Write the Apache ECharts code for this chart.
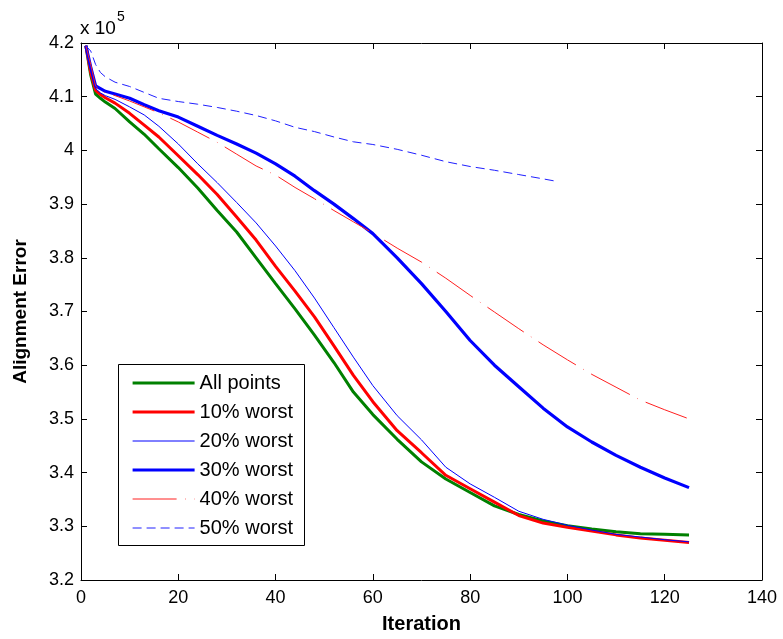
<!DOCTYPE html>
<html>
<head>
<meta charset="utf-8">
<script src="https://cdn.jsdelivr.net/npm/echarts@6/dist/echarts.min.js"></script>
<style>
html,body{margin:0;padding:0;background:#fff;}
#chart{width:783px;height:639px;}
</style>
</head>
<body>
<div id="chart"></div>
<script>
// Iteration numbers at which values were read
var iterations = [1,2,3,4,5,7,10,13,16,20,24,28,32,36,40,44,48,52,56,60,65,70,75,80,85,90,95,100,105,110,115,120,125];
var iterations50 = [1,2,3,4,5,7,10,13,16,20,24,28,32,36,40,44,48,52,56,60,65,70,75,80,85,90,95,98];

// Alignment error, units of 10^5
var allPoints = [4.195,4.14,4.105,4.097,4.09,4.078,4.053,4.03,4.003,3.968,3.93,3.888,3.848,3.80,3.752,3.705,3.656,3.605,3.55,3.508,3.462,3.42,3.388,3.363,3.338,3.322,3.31,3.301,3.295,3.29,3.286,3.285,3.284];
var worst10 = [4.195,4.145,4.112,4.104,4.098,4.088,4.069,4.047,4.025,3.99,3.955,3.918,3.876,3.833,3.784,3.738,3.69,3.636,3.581,3.532,3.478,3.437,3.395,3.37,3.345,3.32,3.306,3.298,3.291,3.284,3.278,3.274,3.27];
var worst20 = [4.195,4.15,4.115,4.107,4.102,4.095,4.081,4.066,4.045,4.012,3.975,3.94,3.903,3.865,3.822,3.776,3.725,3.67,3.615,3.562,3.506,3.461,3.41,3.379,3.354,3.328,3.313,3.302,3.293,3.285,3.28,3.275,3.271];
var worst30 = [4.195,4.155,4.12,4.115,4.11,4.105,4.097,4.085,4.074,4.062,4.045,4.028,4.012,3.995,3.975,3.952,3.925,3.90,3.873,3.845,3.80,3.752,3.70,3.646,3.60,3.56,3.52,3.485,3.457,3.432,3.41,3.39,3.372];
var worst40 = [4.195,4.16,4.12,4.112,4.108,4.102,4.092,4.081,4.07,4.053,4.034,4.015,3.993,3.971,3.954,3.931,3.91,3.888,3.867,3.846,3.818,3.792,3.762,3.73,3.699,3.668,3.638,3.61,3.583,3.559,3.535,3.517,3.50];
var worst50 = [4.195,4.185,4.16,4.145,4.137,4.127,4.119,4.108,4.097,4.091,4.086,4.08,4.073,4.065,4.055,4.043,4.035,4.025,4.016,4.011,4.002,3.991,3.979,3.97,3.963,3.955,3.947,3.942];

var seriesNames = ['All points','10% worst','20% worst','30% worst','40% worst','50% worst'];
var xTicks = [0,20,40,60,80,100,120,140];
var yTicks = [3.2,3.3,3.4,3.5,3.6,3.7,3.8,3.9,4,4.1,4.2];

function pairs(xs, ys){ return xs.map(function(x,i){ return [x, ys[i]]; }); }

var chart = echarts.init(document.getElementById('chart'), null, {renderer:'canvas'});
var FONT = 'Liberation Sans';
function fmt(v){ return String(parseFloat(Number(v).toFixed(1))); }

var lineDefs = [
  {data: pairs(iterations, allPoints), color:'#008000', width:3, type:'solid'},
  {data: pairs(iterations, worst10), color:'#ff0000', width:3, type:'solid'},
  {data: pairs(iterations, worst20), color:'#0000ff', width:1, type:'solid'},
  {data: pairs(iterations, worst30), color:'#0000ff', width:3.2, type:'solid'},
  {data: pairs(iterations, worst40), color:'#ff2020', width:1, type:[44,8.5,0.6,8.5]},
  {data: pairs(iterations50, worst50), color:'#2020ff', width:1, type:[9,5]}
];

var series = lineDefs.map(function(d, i){
  return {
    name: seriesNames[i], type:'line', data:d.data, symbol:'none', showSymbol:false,
    smooth:false, animation:false, color:d.color,
    lineStyle:{color:d.color, width:d.width, type:d.type},
    emphasis:{disabled:true}, z: 2 + i
  };
});

var legendData = seriesNames.map(function(n, i){
  return {name:n, lineStyle:{width:lineDefs[i].width, type:lineDefs[i].type, color:lineDefs[i].color}};
});

var axisCommon = {
  axisLine:{show:true, onZero:false, lineStyle:{color:'#000', width:1}},
  axisTick:{show:true, inside:true, length:6, lineStyle:{color:'#000'}},
  splitLine:{show:false}
};

var option = {
  backgroundColor:'#fff',
  animation:false,
  grid:{left:81, right:21, top:43, bottom:59, containLabel:false},
  legend:{
    show:true, left:131, top:373, orient:'vertical', padding:0,
    itemWidth:62, itemHeight:20, itemGap:9,
    itemStyle:{opacity:0},
    textStyle:{fontFamily:FONT, fontSize:20, color:'#000', lineHeight:20},
    data: legendData, selectedMode:false
  },
  xAxis:[
    Object.assign({type:'value', min:0, max:140, interval:20, position:'bottom',
      name:'Iteration', nameLocation:'middle', nameGap:34,
      nameTextStyle:{fontFamily:FONT, fontSize:20, fontWeight:'bold', color:'#000'},
      axisLabel:{fontFamily:FONT, fontSize:18, color:'#000', margin:9}}, axisCommon),
    Object.assign({type:'value', min:0, max:140, interval:20, position:'top',
      axisLabel:{show:false}}, axisCommon)
  ],
  yAxis:[
    Object.assign({type:'value', min:3.2, max:4.2, interval:0.1, position:'left',
      name:'Alignment Error', nameLocation:'middle', nameGap:51,
      nameTextStyle:{fontFamily:FONT, fontSize:19, fontWeight:'bold', color:'#000'},
      axisLabel:{fontFamily:FONT, fontSize:18, color:'#000', margin:7, formatter:fmt}}, axisCommon),
    Object.assign({type:'value', min:3.2, max:4.2, interval:0.1, position:'right',
      axisLabel:{show:false}}, axisCommon)
  ],
  graphic:[
    {type:'rect', left:118, top:364, shape:{width:186, height:181}, z:50,
      style:{fill:'rgba(255,255,255,0)', stroke:'#000', lineWidth:1}, silent:true},
    {type:'text', left:80, top:10, z:50,
      style:{text:'{a|x 10}{b|5}', rich:{
        a:{fontFamily:FONT, fontSize:19, fill:'#000', verticalAlign:'bottom', padding:[9,0,0,0]},
        b:{fontFamily:FONT, fontSize:14, fill:'#000', verticalAlign:'top', padding:[0,0,11,1]}
      }}}
  ],
  series: series
};
chart.setOption(option);
</script>
</body>
</html>
